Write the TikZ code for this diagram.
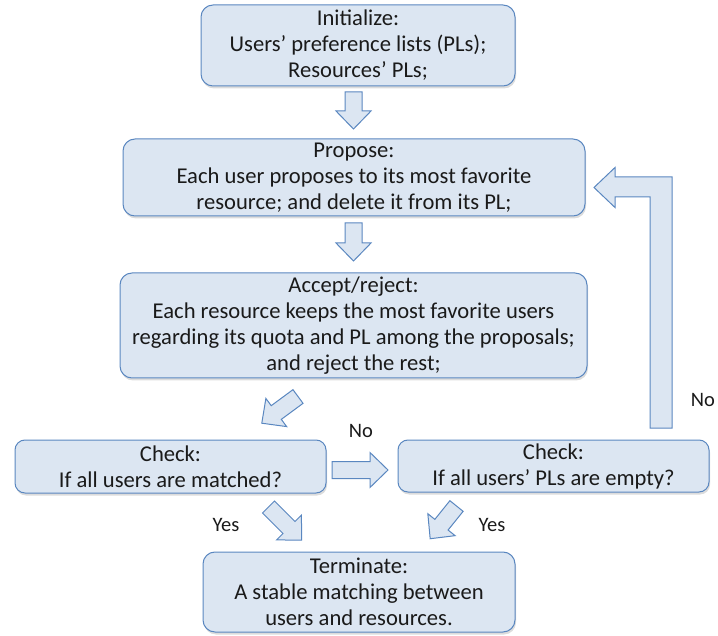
\documentclass[tikz,border=0pt]{standalone}
\usepackage{fontspec}
\setmainfont{Carlito}
\usetikzlibrary{shadows}
\definecolor{boxfill}{HTML}{DCE6F2}
\definecolor{boxline}{HTML}{5A87C0}
\definecolor{textc}{HTML}{1A1A1A}
\tikzset{
  stepbox/.style={draw=boxline, fill=boxfill, line width=1pt, rounded corners=12pt,
    align=center, inner sep=0pt, text=textc,
    font=\fontsize{22.6}{26}\selectfont,
    execute at begin node={\rule{0pt}{22pt}},
    drop shadow={shadow xshift=1pt, shadow yshift=-2.5pt, opacity=0.3, fill=black!45}},
  lbl/.style={font=\fontsize{20.5}{24}\selectfont, text=textc, inner sep=0pt},
  arrowbody/.style={draw=boxline, fill=boxfill, line width=1pt, line join=miter},
  % hollow block arrow of length #1 along local +x
  blockarrow/.pic={
    \draw[arrowbody] (0,-8.5) -- ({#1-18},-8.5) -- ({#1-18},-17.5) -- (#1,0)
      -- ({#1-18},17.5) -- ({#1-18},8.5) -- (0,8.5) -- cycle;
  },
}
\begin{document}
\begin{tikzpicture}[x=1pt,y=-1pt]
\useasboundingbox (0,0) rectangle (718,636);

% process steps
\node[stepbox, minimum width=314pt, minimum height=81pt] (init) at (358,45.5)
  {Initialize:\\Users’ preference lists (PLs);\\Resources’ PLs;};
\node[stepbox, minimum width=462pt, minimum height=77pt] (propose) at (354,177.5)
  {Propose:\\Each user proposes to its most favorite\\resource; and delete it from its PL;};
\node[stepbox, minimum width=467pt, minimum height=105pt] (accept) at (353.5,325.5)
  {Accept/reject:\\Each resource keeps the most favorite users\\regarding its quota and PL among the proposals;\\and reject the rest;};
\node[stepbox, rounded corners=10pt, minimum width=311pt, minimum height=53pt] (matched) at (170.5,466.5)
  {Check:\\If all users are matched?};
\node[stepbox, rounded corners=10pt, minimum width=311pt, minimum height=52pt] (empty) at (553.5,466)
  {Check:\\If all users’ PLs are empty?};
\node[stepbox, minimum width=312pt, minimum height=80pt] (term) at (359,592)
  {Terminate:\\A stable matching between\\users and resources.};

% block arrows between the steps
\pic[rotate=-90] at (353.5,92) {blockarrow=37};
\pic[rotate=-90] at (353.5,223) {blockarrow=38};
\pic[rotate=216.4] at (298,396.5) {blockarrow=45};
\pic at (332,470) {blockarrow=56};
\pic[rotate=-45] at (268.5,507) {blockarrow=47};
\pic[rotate=231.2] at (456.5,506) {blockarrow=42};

% feedback arrow back to the proposal step
\draw[arrowbody] (650,428) -- (672,428) -- (672,177) -- (615,177) -- (615,167.5)
  -- (594,187.5) -- (615,207.5) -- (615,197) -- (650,197) -- cycle;

% branch labels
\node[lbl] (no1) at (361,431) {No};
\node[lbl] (no2) at (703,400) {No};
\node[lbl] (yes1) at (226,525) {Yes};
\node[lbl] (yes2) at (492,525) {Yes};
\end{tikzpicture}
\end{document}
